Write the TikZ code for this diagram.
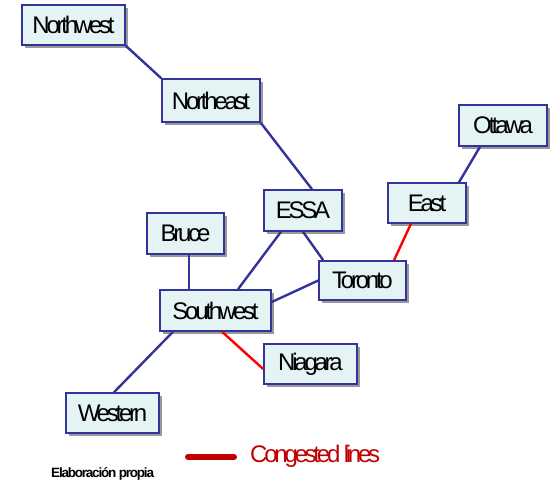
\documentclass[tikz,border=0pt]{standalone}
\usepackage{fontspec}
\setmainfont{Liberation Sans}[LetterSpace=-13.5]
\newfontfamily\smallbold{Liberation Sans}[LetterSpace=-9]
\usetikzlibrary{shadows,calc}
\definecolor{boxfill}{HTML}{E4F3F3}
\definecolor{navy}{HTML}{333399}
\definecolor{darkred}{HTML}{C00000}
\tikzset{
  region/.style={draw=navy, line width=1.5pt, fill=boxfill, inner sep=0pt,
    font=\fontsize{24}{24}\selectfont, text=black,
    drop shadow={shadow xshift=3pt, shadow yshift=-3pt, fill=gray!80, opacity=1}},
  link/.style={draw=navy, line width=2.4pt},
  congested/.style={draw=red, line width=2.4pt},
}
\begin{document}
\begin{tikzpicture}[x=1pt,y=-1pt]
\useasboundingbox (0,0) rectangle (560,482);
\node[region, minimum width=103pt, minimum height=40pt] (nw) at (73.5,25) {Northwest};
\node[region, minimum width=98pt, minimum height=43pt] (ne) at (211,100.5) {Northeast};
\node[region, minimum width=78pt, minimum height=41pt] (essa) at (303,210.5) {ESSA};
\node[region, minimum width=77pt, minimum height=41pt] (bruce) at (185.5,233.5) {Bruce};
\node[region, minimum width=87pt, minimum height=39pt] (tor) at (362.5,280.5) {Toronto};
\node[region, minimum width=111pt, minimum height=41pt] (sw) at (215.5,310.5) {Southwest};
\node[region, minimum width=78pt, minimum height=40pt] (east) at (427,203) {East};
\node[region, minimum width=88pt, minimum height=41pt] (ott) at (503,125.5) {Ottawa};
\node[region, minimum width=93pt, minimum height=40pt] (nia) at (310.5,364) {Niagara};
\node[region, minimum width=93pt, minimum height=40pt] (west) at (112.5,413) {Western};

\draw[link] (nw.south east) -- (ne.north west);
\draw[link] (ne.south east) -- ($(essa.north)+(9,0)$);
\draw[link] ($(essa.south)+(-22,0)$) -- ($(sw.north)+(22.5,0)$);
\draw[link] (essa.south) -- ($(tor.north west)+(5,0)$);
\draw[link] (tor.west) -- ($(sw.east)+(0,-8.5)$);
\draw[link] ($(bruce.south)+(3.5,0)$) -- ($(sw.north)+(-26.5,0)$);
\draw[congested] ($(east.south)+(-16,0)$) -- ($(tor.north)+(31.5,0)$);
\draw[link] ($(ott.south)+(-23,0)$) -- ($(east.north)+(32,0)$);
\draw[congested] ($(sw.south)+(6.5,0)$) -- ($(nia.west)+(0,5)$);
\draw[link] ($(sw.south)+(-42.5,0)$) -- ($(west.north)+(1.5,0)$);

\coordinate (legA) at (188,457);
\coordinate (legB) at (234,457);
\draw[draw=darkred, line width=6pt, line cap=round] (legA) -- (legB);
\node[anchor=west, inner sep=0pt, text=darkred, font=\fontsize{24}{24}\selectfont] (leg) at (250,456) {Congested lines};
\node[anchor=west, inner sep=0pt, font=\smallbold\bfseries\fontsize{13.5}{13.5}\selectfont] (src) at (51,474) {Elaboración propia};
\end{tikzpicture}
\end{document}
